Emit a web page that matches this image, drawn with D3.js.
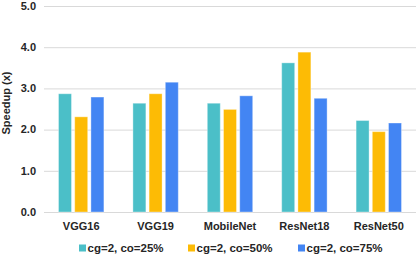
<!DOCTYPE html>
<html>
<head>
<meta charset="utf-8">
<script src="https://cdn.jsdelivr.net/npm/d3@7"></script>
<style>
  html, body { margin: 0; padding: 0; background: #fff; }
  svg { display: block; font-family: "Liberation Sans", Arial, sans-serif; }
</style>
</head>
<body>
<div id="chart"></div>
<script>
const MODELS = ["VGG16", "VGG19", "MobileNet", "ResNet18", "ResNet50"];
const SERIES = ["cg=2, co=25%", "cg=2, co=50%", "cg=2, co=75%"];
const CO25 = [2.87, 2.64, 2.64, 3.62, 2.22];
const CO50 = [2.31, 2.87, 2.49, 3.88, 1.95];
const CO75 = [2.79, 3.15, 2.82, 2.76, 2.16];
const Y_TICKS = [0, 1, 2, 3, 4, 5];
const COLORS = ["#4BBFC8", "#FDBB05", "#4385F3"];

const W = 416, H = 254;
const margin = { top: 6, right: 0, bottom: 42, left: 44 };

const values = [CO25, CO50, CO75];
const rows = MODELS.map((m, i) => ({
    model: m,
    vals: SERIES.map((s, j) => ({ key: s, value: values[j][i], color: COLORS[j] }))
}));

const svg = d3.select("#chart").append("svg")
    .attr("width", W)
    .attr("height", H);

const x0 = d3.scaleBand().domain(MODELS)
    .range([margin.left, W - margin.right])
    .paddingInner(0.39).paddingOuter(0.195);
const x1 = d3.scaleBand().domain(SERIES)
    .range([0, x0.bandwidth()])
    .paddingInner(0.2).paddingOuter(0);
const y = d3.scaleLinear().domain([0, 5]).range([H - margin.bottom, margin.top]);

// gridlines
svg.append("g")
    .selectAll("line")
    .data(Y_TICKS)
    .join("line")
    .attr("x1", margin.left)
    .attr("x2", W - margin.right)
    .attr("y1", d => y(d) + 0.5)
    .attr("y2", d => y(d) + 0.5)
    .attr("stroke", "#D9D9D9")
    .attr("stroke-width", 1);

// y tick labels
svg.append("g")
    .selectAll("text")
    .data(Y_TICKS)
    .join("text")
    .attr("x", 36)
    .attr("y", d => y(d))
    .attr("dy", "0.35em")
    .attr("text-anchor", "end")
    .attr("font-size", 11)
    .attr("font-weight", "bold")
    .attr("fill", "#262626")
    .text(d => d.toFixed(1));

// y axis title
svg.append("text")
    .attr("transform", `translate(10, ${(y(0) + y(5)) / 2 - 6}) rotate(-90)`)
    .attr("text-anchor", "middle")
    .attr("font-size", 11)
    .attr("font-weight", "bold")
    .attr("fill", "#262626")
    .text("Speedup (x)");

// bars
const groups = svg.append("g")
    .selectAll("g")
    .data(rows)
    .join("g")
    .attr("transform", d => `translate(${x0(d.model)},0)`);

groups.selectAll("rect")
    .data(d => d.vals)
    .join("rect")
    .attr("x", d => x1(d.key))
    .attr("y", d => y(d.value))
    .attr("width", x1.bandwidth())
    .attr("height", d => y(0) - y(d.value))
    .attr("fill", d => d.color)
    .attr("stroke", "rgba(255,255,255,0.35)")
    .attr("stroke-width", 1);

// category labels
svg.append("g")
    .selectAll("text")
    .data(MODELS)
    .join("text")
    .attr("x", d => x0(d) + x0.bandwidth() / 2)
    .attr("y", 229.5)
    .attr("text-anchor", "middle")
    .attr("font-size", 11)
    .attr("font-weight", "bold")
    .attr("fill", "#262626")
    .text(d => d);

// legend
const legendX = [79, 188, 298];
const legend = svg.append("g")
    .selectAll("g")
    .data(SERIES)
    .join("g")
    .attr("transform", (d, i) => `translate(${legendX[i]}, 248)`);

legend.append("rect")
    .attr("x", 0)
    .attr("y", -3.5)
    .attr("width", 7)
    .attr("height", 7)
    .attr("fill", (d, i) => COLORS[i]);

legend.append("text")
    .attr("x", 8.5)
    .attr("y", 0)
    .attr("dy", "0.36em")
    .attr("font-size", 11.5)
    .attr("font-weight", "bold")
    .attr("fill", "#262626")
    .text(d => d);
</script>
</body>
</html>
